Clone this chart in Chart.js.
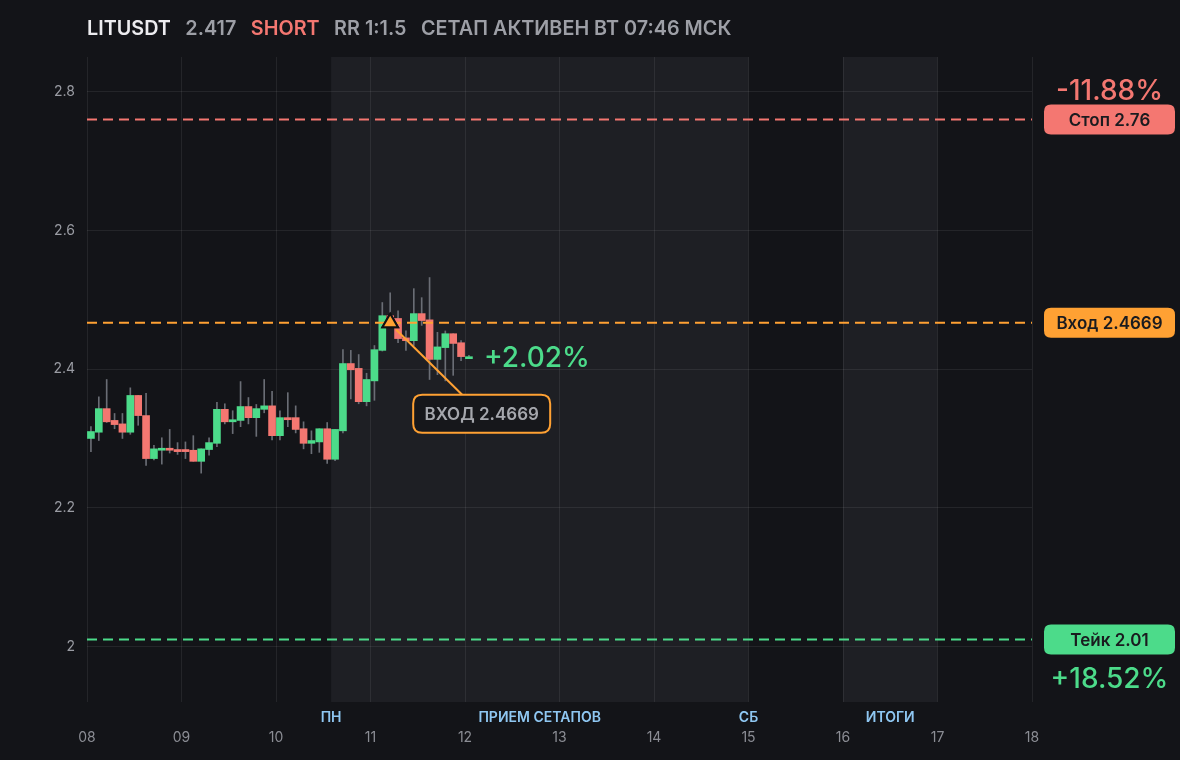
<!DOCTYPE html>
<html>
<head>
<meta charset="utf-8">
<script src="https://cdn.jsdelivr.net/npm/chart.js@4.4.1/dist/chart.umd.min.js"></script>
<style>
  html, body { margin: 0; padding: 0; background: #131418; }
  #wrap { width: 1180px; height: 760px; position: relative; }
  canvas { display: block; }
</style>
</head>
<body>
<div id="wrap"><canvas id="c" width="1180" height="760"></canvas></div>
<script>
// ---------- DATA ----------
const symbol = 'LITUSDT';
const lastPrice = 2.417;
const side = 'SHORT';
const rrText = 'RR 1:1.5';
const statusText = 'СЕТАП АКТИВЕН ВТ 07:46 МСК';

const startDay = 8;          // first candle opens at day 08 00:00
const candleHours = 2;       // 2h candles

const opens  = [2.300,2.309,2.343,2.326,2.321,2.309,2.362,2.333,2.271,2.283,2.285,2.284,2.284,2.283,2.267,2.284,2.293,2.342,2.324,2.326,2.346,2.330,2.342,2.347,2.304,2.330,2.330,2.314,2.293,2.295,2.314,2.270,2.311,2.408,2.401,2.353,2.383,2.427,2.477,2.473,2.445,2.441,2.480,2.471,2.414,2.431,2.451,2.438,2.415];
const highs  = [2.317,2.360,2.385,2.336,2.336,2.373,2.362,2.365,2.290,2.301,2.313,2.294,2.295,2.304,2.285,2.301,2.352,2.350,2.340,2.382,2.359,2.349,2.385,2.368,2.340,2.366,2.347,2.324,2.311,2.314,2.323,2.313,2.428,2.427,2.421,2.394,2.434,2.496,2.510,2.484,2.455,2.516,2.503,2.532,2.453,2.455,2.451,2.441,2.420];
const lows   = [2.281,2.297,2.323,2.314,2.300,2.306,2.319,2.261,2.269,2.263,2.279,2.277,2.271,2.267,2.250,2.276,2.288,2.321,2.307,2.317,2.321,2.303,2.337,2.298,2.298,2.317,2.308,2.285,2.278,2.280,2.264,2.268,2.308,2.357,2.350,2.347,2.355,2.426,2.460,2.438,2.427,2.434,2.463,2.385,2.392,2.383,2.391,2.412,2.415];
const closes = [2.310,2.343,2.324,2.320,2.309,2.362,2.333,2.271,2.285,2.285,2.283,2.281,2.281,2.267,2.285,2.294,2.342,2.324,2.327,2.346,2.330,2.343,2.347,2.304,2.330,2.327,2.313,2.293,2.297,2.314,2.270,2.313,2.408,2.399,2.353,2.385,2.428,2.477,2.470,2.444,2.441,2.480,2.470,2.414,2.432,2.451,2.437,2.418,2.417];

const stopPrice = 2.76;
const entryPrice = 2.4669;
const takePrice = 2.01;
const entryCandleIndex = 38;

const xTicks = [8,9,10,11,12,13,14,15,16,17,18];
const xTickLabels = ['08','09','10','11','12','13','14','15','16','17','18'];
const yTicks = [2, 2.2, 2.4, 2.6, 2.8];
const yTickLabels = ['2','2.2','2.4','2.6','2.8'];

const shadedZones = [[10.583, 15], [16, 17]];
const sessionLabels = ['ПН', 'ПРИЕМ СЕТАПОВ', 'СБ', 'ИТОГИ'];
const sessionPositions = [10.583, 12.79, 15, 16.5];

// ---------- STYLE ----------
const GREEN = '#4cdb8a';
const RED = '#f47771';
const ORANGE = '#ffa133';
const BG = '#131418';
const SHADE = '#1e1f24';
const GRID = 'rgba(255,255,255,0.075)';
const FONT = 'Inter, "Noto Sans", sans-serif';

const candleX = opens.map((_, i) => startDay + (i * candleHours + candleHours / 2) / 24);
const bodyData = opens.map((o, i) => ({ x: candleX[i], y: [o, closes[i]] }));
const wickData = opens.map((o, i) => ({ x: candleX[i], y: [lows[i], highs[i]] }));
const bodyColors = opens.map((o, i) => closes[i] >= o ? GREEN : RED);

const pct = (p) => (entryPrice - p) / entryPrice * 100;
const fmtPct = (v) => (v >= 0 ? '+' : '-') + Math.abs(v).toFixed(2) + '%';

function levelLine(price, color, width) {
  return {
    type: 'line',
    data: [{ x: xTicks[0], y: price }, { x: xTicks[xTicks.length - 1], y: price }],
    borderColor: color, borderWidth: width, borderDash: [10, 6],
    pointRadius: 0, order: 0, fill: false
  };
}

function roundRect(ctx, x, y, w, h, r) {
  ctx.beginPath();
  ctx.moveTo(x + r, y);
  ctx.lineTo(x + w - r, y);
  ctx.quadraticCurveTo(x + w, y, x + w, y + r);
  ctx.lineTo(x + w, y + h - r);
  ctx.quadraticCurveTo(x + w, y + h, x + w - r, y + h);
  ctx.lineTo(x + r, y + h);
  ctx.quadraticCurveTo(x, y + h, x, y + h - r);
  ctx.lineTo(x, y + r);
  ctx.quadraticCurveTo(x, y, x + r, y);
  ctx.closePath();
}

const decor = {
  id: 'decor',
  beforeDraw(chart) {
    const { ctx, chartArea: a, scales: { x } } = chart;
    ctx.save();
    ctx.fillStyle = BG;
    ctx.fillRect(0, 0, chart.width, chart.height);
    ctx.fillStyle = SHADE;
    shadedZones.forEach(([s, e]) => {
      const x0 = x.getPixelForValue(s), x1 = x.getPixelForValue(e);
      ctx.fillRect(x0, a.top, x1 - x0, a.bottom - a.top);
    });
    ctx.restore();
  },
  afterDraw(chart) {
    const { ctx, chartArea: a, scales: { x, y } } = chart;
    ctx.save();
    // header
    ctx.textBaseline = 'alphabetic';
    ctx.textAlign = 'left';
    ctx.font = '600 19.8px ' + FONT;
    const parts = [
      [symbol, '#ececef'], [lastPrice.toFixed(3), '#9d9fa6'], [side, RED],
      [rrText, '#9d9fa6'], [statusText, '#9d9fa6']
    ];
    let hx = 87;
    parts.forEach(([t, c]) => {
      ctx.fillStyle = c;
      ctx.fillText(t, hx, 35);
      hx += ctx.measureText(t).width + 14.5;
    });

    // session labels
    ctx.font = '600 14px ' + FONT;
    ctx.fillStyle = '#8fc7f2';
    ctx.textAlign = 'center';
    sessionLabels.forEach((t, i) => {
      ctx.fillText(t, x.getPixelForValue(sessionPositions[i]), 722);
    });

    // right price labels
    const lx = a.right + 12, lw = 131, lh = 30;
    const tags = [
      ['Стоп ' + stopPrice, stopPrice, RED],
      ['Вход ' + entryPrice, entryPrice, ORANGE],
      ['Тейк ' + takePrice, takePrice, GREEN]
    ];
    tags.forEach(([t, p, c]) => {
      const py = y.getPixelForValue(p);
      ctx.fillStyle = c;
      roundRect(ctx, lx, py - lh / 2, lw, lh, 7);
      ctx.fill();
      ctx.fillStyle = '#1a1b1f';
      ctx.font = '600 17px ' + FONT;
      ctx.textAlign = 'center';
      ctx.textBaseline = 'middle';
      ctx.fillText(t, lx + lw / 2, py + 1);
    });
    ctx.textBaseline = 'alphabetic';
    ctx.font = '500 28px ' + FONT;
    ctx.fillStyle = RED;
    ctx.fillText(fmtPct(pct(stopPrice)), lx + lw / 2, y.getPixelForValue(stopPrice) - 19);
    ctx.fillStyle = GREEN;
    ctx.fillText(fmtPct(pct(takePrice)), lx + lw / 2, y.getPixelForValue(takePrice) + 48);

    // current pnl text
    const lastX = x.getPixelForValue(candleX[candleX.length - 1]);
    ctx.textAlign = 'left';
    ctx.fillStyle = GREEN;
    ctx.fillText(fmtPct(pct(lastPrice)), lastX + 15, y.getPixelForValue(lastPrice) + 10);

    // entry callout
    const ex = x.getPixelForValue(candleX[entryCandleIndex]);
    const ey = y.getPixelForValue(entryPrice);
    const bx = ex + 23, by = ey + 72, bw = 137, bh = 38;
    ctx.strokeStyle = ORANGE;
    ctx.lineWidth = 2;
    ctx.beginPath();
    ctx.moveTo(ex + 6, ey + 7);
    ctx.lineTo(ex + 72, by);
    ctx.stroke();
    roundRect(ctx, bx, by, bw, bh, 9);
    ctx.fillStyle = '#16171b';
    ctx.fill();
    ctx.stroke();
    ctx.fillStyle = '#a5a7ad';
    ctx.font = '600 17px ' + FONT;
    ctx.textAlign = 'center';
    ctx.textBaseline = 'middle';
    ctx.fillText('ВХОД ' + entryPrice, bx + bw / 2, by + bh / 2 + 1);
    ctx.restore();

    // redraw marker on top of the callout line
    const meta = chart.getDatasetMeta(chart.data.datasets.length - 1);
    meta.data.forEach(el => el.draw(ctx, chart.chartArea));
  }
};

new Chart(document.getElementById('c'), {
  type: 'bar',
  data: {
    datasets: [
      { label: 'wicks', data: wickData, backgroundColor: '#6a6d75', barThickness: 1, grouped: false, order: 3 },
      { label: 'bodies', data: bodyData, backgroundColor: bodyColors, barThickness: 7, minBarLength: 2, grouped: false, order: 2 },
      levelLine(stopPrice, RED, 2),
      levelLine(entryPrice, ORANGE, 2),
      levelLine(takePrice, GREEN, 2),
      {
        type: 'scatter', label: 'entry',
        data: [{ x: candleX[entryCandleIndex], y: entryPrice }],
        pointStyle: 'triangle', pointRadius: 9, backgroundColor: ORANGE,
        borderColor: '#101114', borderWidth: 2, order: -1
      }
    ]
  },
  options: {
    responsive: false,
    animation: false,
    events: [],
    layout: { padding: { top: 57, right: 148, left: 0, bottom: 0 } },
    plugins: { legend: { display: false }, tooltip: { enabled: false } },
    scales: {
      x: {
        type: 'linear', min: 8, max: 18, offset: false,
        afterBuildTicks: ax => { ax.ticks = xTicks.map(v => ({ value: v })); },
        afterFit: ax => { ax.height = 58; },
        ticks: {
          callback: (v) => xTickLabels[xTicks.indexOf(v)],
          color: '#8b8d94', font: { family: FONT, size: 14 }, padding: 27,
          maxRotation: 0, autoSkip: false
        },
        grid: { color: GRID, drawTicks: false, offset: false },
        border: { display: false }
      },
      y: {
        type: 'linear', min: 1.92, max: 2.85,
        afterBuildTicks: ax => { ax.ticks = yTicks.map(v => ({ value: v })); },
        afterFit: ax => { ax.width = 87; },
        ticks: {
          callback: (v) => yTickLabels[yTicks.indexOf(v)],
          color: '#9a9ca3', font: { family: FONT, size: 14 }, padding: 12
        },
        grid: { color: GRID, drawTicks: false },
        border: { display: false }
      }
    }
  },
  plugins: [decor]
});
</script>
</body>
</html>
